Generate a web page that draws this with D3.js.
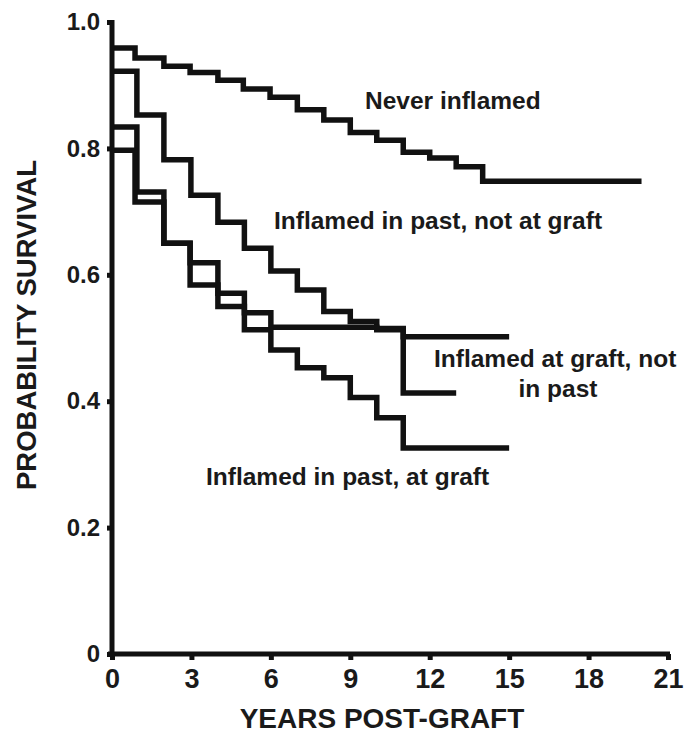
<!DOCTYPE html>
<html>
<head>
<meta charset="utf-8">
<script src="https://cdn.jsdelivr.net/npm/d3@7"></script>
<style>
  html, body { margin: 0; padding: 0; background: #fff; }
  svg { display: block; }
  text { font-family: Arial, "Liberation Sans", sans-serif; font-weight: bold; fill: #1a1a1a; }
</style>
</head>
<body>
<svg id="chart" width="693" height="738"></svg>
<script>
// ---- data ----
const xTicks = [0, 3, 6, 9, 12, 15, 18, 21];
const yTicks = [0, 0.2, 0.4, 0.6, 0.8, 1.0];
const yTickLabels = ["0", "0.2", "0.4", "0.6", "0.8", "1.0"];

const neverTimes = [0, 0.87, 1.96, 2.95, 4, 4.96, 5.97, 7, 8, 9, 10, 11, 12, 13, 14];
const neverSurv  = [0.959, 0.943, 0.930, 0.920, 0.908, 0.894, 0.881, 0.861, 0.845, 0.825, 0.813, 0.794, 0.785, 0.771, 0.748];
const neverEnd = 20;

const pastNotGraftTimes = [0, 0.94, 1.96, 2.98, 4, 5, 6, 7, 8, 9, 10, 11];
const pastNotGraftSurv  = [0.922, 0.853, 0.782, 0.726, 0.683, 0.642, 0.606, 0.576, 0.542, 0.526, 0.515, 0.502];
const pastNotGraftEnd = 15;

const graftNotPastTimes = [0, 0.94, 1.96, 2.95, 4, 5, 6, 10, 11];
const graftNotPastSurv  = [0.834, 0.731, 0.650, 0.584, 0.571, 0.540, 0.517, 0.513, 0.413];
const graftNotPastEnd = 13;

const pastAndGraftTimes = [0, 0.87, 1.96, 2.95, 4, 5, 6, 7, 8, 9, 10, 11];
const pastAndGraftSurv  = [0.797, 0.715, 0.650, 0.619, 0.550, 0.513, 0.481, 0.453, 0.437, 0.406, 0.374, 0.326];
const pastAndGraftEnd = 15;

const seriesNames = ["Never inflamed", "Inflamed in past, not at graft", "Inflamed at graft, not in past", "Inflamed in past, at graft"];

// ---- build ----
function steps(times, surv, end) {
  const pts = times.map((t, i) => ({ t: t, s: surv[i] }));
  pts.push({ t: end, s: surv[surv.length - 1] });
  return pts;
}
const series = [
  steps(neverTimes, neverSurv, neverEnd),
  steps(pastNotGraftTimes, pastNotGraftSurv, pastNotGraftEnd),
  steps(graftNotPastTimes, graftNotPastSurv, graftNotPastEnd),
  steps(pastAndGraftTimes, pastAndGraftSurv, pastAndGraftEnd)
];

const svg = d3.select("#chart");
const x = d3.scaleLinear().domain([0, 21]).range([112, 668]);
const y = d3.scaleLinear().domain([0, 1]).range([654, 22]);

const line = d3.line().x(d => x(d.t)).y(d => y(d.s)).curve(d3.curveStepAfter);

svg.append("g").selectAll("path").data(series).join("path")
  .attr("d", line)
  .attr("fill", "none")
  .attr("stroke", "#111")
  .attr("stroke-width", 5.5)
  .attr("stroke-linejoin", "miter")
  .attr("stroke-linecap", "butt");

// axes
const xAxis = svg.append("g").attr("transform", `translate(0,${y(0)})`)
  .call(d3.axisBottom(x).tickValues(xTicks).tickSize(6).tickSizeOuter(0).tickPadding(9));
xAxis.select(".domain").attr("stroke", "#111").attr("stroke-width", 5)
  .attr("d", `M${x(0) - 4},0H${x(21) + 2}`);
xAxis.selectAll(".tick line").attr("stroke", "#111").attr("stroke-width", 5);
xAxis.selectAll(".tick text").attr("font-size", 27).attr("fill", "#1a1a1a")
  .attr("font-family", "Arial, 'Liberation Sans', sans-serif").attr("font-weight", "bold");

const yAxis = svg.append("g").attr("transform", `translate(${x(0)},0)`)
  .call(d3.axisLeft(y).tickValues(yTicks).tickFormat((d, i) => yTickLabels[i]).tickSize(5).tickSizeOuter(0).tickPadding(7));
yAxis.select(".domain").attr("stroke", "#111").attr("stroke-width", 5)
  .attr("d", `M0,${y(1) - 2}V${y(0) + 2}`);
yAxis.selectAll(".tick line").attr("stroke", "#111").attr("stroke-width", 5);
yAxis.selectAll(".tick text").attr("font-size", 24).attr("fill", "#1a1a1a")
  .attr("font-family", "Arial, 'Liberation Sans', sans-serif").attr("font-weight", "bold");

// axis titles
svg.append("text").attr("x", 382).attr("y", 728).attr("text-anchor", "middle")
  .attr("font-size", 28).text("YEARS POST-GRAFT");
svg.append("text").attr("transform", "translate(36,325) rotate(-90)").attr("text-anchor", "middle")
  .attr("font-size", 27.5).text("PROBABILITY SURVIVAL");

// series labels
const labelG = svg.append("g").attr("font-size", 24.5);
labelG.append("text").attr("x", 365).attr("y", 109).text(seriesNames[0]);
labelG.append("text").attr("x", 274).attr("y", 229).text(seriesNames[1]);
labelG.append("text").attr("x", 434).attr("y", 367).text("Inflamed at graft, not");
labelG.append("text").attr("x", 558).attr("y", 397).attr("text-anchor", "middle").text("in past");
labelG.append("text").attr("x", 206).attr("y", 485).text(seriesNames[3]);
</script>
</body>
</html>
